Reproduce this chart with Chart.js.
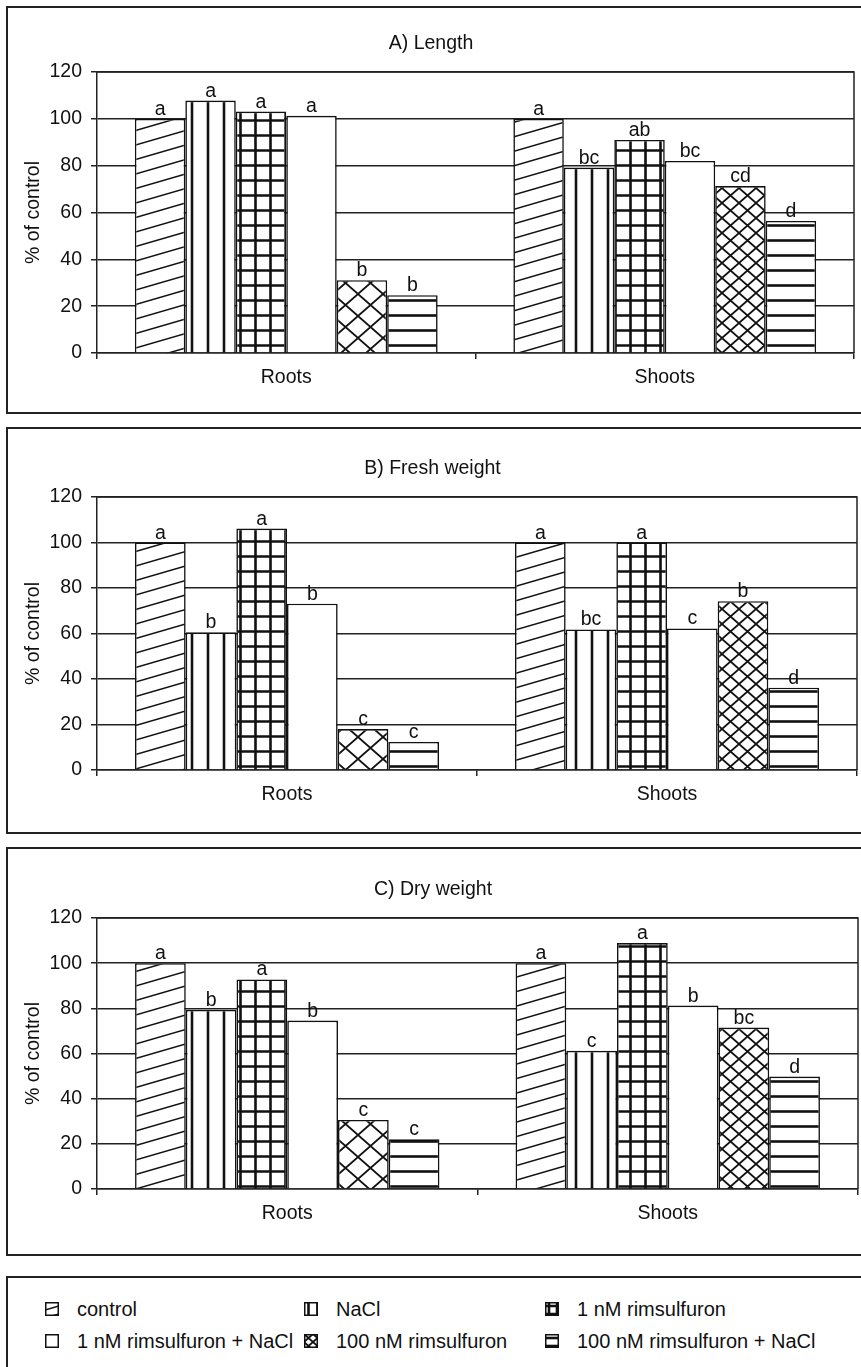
<!DOCTYPE html>
<html lang="en">
<head>
<meta charset="UTF-8">
<title>Rimsulfuron and NaCl: roots and shoots</title>
<script src="https://cdn.jsdelivr.net/npm/chart.js"></script>
<style>
  body { margin: 0; background: #fff; width: 861px; height: 1367px; overflow: hidden; position: relative;
         font-family: "Liberation Sans", Arial, sans-serif; color: #111; }
  .panel { position: absolute; left: 6px; width: 870px; border: 2px solid #222; background: #fff; }
  .panel canvas { display: block; }
  #legend { top: 1276px; height: 100px; }
  .item { position: absolute; font-size: 20px; line-height: 22px; white-space: nowrap; }
  .item canvas { position: absolute; left: 0; top: 4px; }
  .item span { position: absolute; left: 0; top: 0; }
</style>
</head>
<body>
<div class="panel" id="boxA"><canvas id="chartA"></canvas></div>
<div class="panel" id="boxB"><canvas id="chartB"></canvas></div>
<div class="panel" id="boxC"><canvas id="chartC"></canvas></div>
<div class="panel" id="legend"></div>

<script>
    const categories = ['Roots', 'Shoots'];
    const treatments = ['control', 'NaCl', '1 nM rimsulfuron', '1 nM rimsulfuron + NaCl', '100 nM rimsulfuron', '100 nM rimsulfuron + NaCl'];
    const yMin = 0, yMax = 120, yStep = 20;

    // A) Length
    const lengthRoots = [100, 107.8, 103.1, 101.3, 31.1, 24.7];
    const lengthShoots = [100, 79.2, 91.0, 82.0, 71.3, 56.4];
    const lengthRootsLetters = ['a', 'a', 'a', 'a', 'b', 'b'];
    const lengthShootsLetters = ['a', 'bc', 'ab', 'bc', 'cd', 'd'];

    // B) Fresh weight
    const freshRoots = [100, 60.5, 106.1, 73.1, 18.0, 12.3];
    const freshShoots = [100, 61.8, 100, 62.2, 74.2, 36.2];
    const freshRootsLetters = ['a', 'b', 'a', 'b', 'c', 'c'];
    const freshShootsLetters = ['a', 'bc', 'a', 'c', 'b', 'd'];

    // C) Dry weight
    const dryRoots = [100, 79.3, 92.8, 74.6, 30.6, 22.0];
    const dryShoots = [100, 61.2, 108.9, 81.2, 71.5, 49.8];
    const dryRootsLetters = ['a', 'b', 'a', 'b', 'c', 'c'];
    const dryShootsLetters = ['a', 'c', 'a', 'b', 'bc', 'd'];

    const FONT = '"Liberation Sans", Arial, sans-serif';
    const FONT_PX = 19.5;
    const INK = '#111';
    const LINE = '#222';

    function tilePattern(w, h, lw, paint) {
        const c = document.createElement('canvas');
        c.width = w;
        c.height = h;
        const g = c.getContext('2d');
        g.fillStyle = '#fff';
        g.fillRect(0, 0, w, h);
        g.strokeStyle = INK;
        g.lineWidth = lw;
        g.beginPath();
        paint(g, w, h);
        g.stroke();
        return g.createPattern(c, 'repeat');
    }

    function makeFills(k) {
        const r = v => Math.max(2, Math.round(v * k));
        return {
            diagonal: tilePattern(r(100), r(29), 1.5, (g, w, h) => {
                for (let i = 0; i <= 4; i++) { g.moveTo(0, i * h / 2); g.lineTo(w, i * h / 2 - h); }
            }),
            vertical: tilePattern(r(16), 4, 2.6, (g, w, h) => { g.moveTo(w / 2, 0); g.lineTo(w / 2, h); }),
            grid: tilePattern(r(15), r(15), 2.6, (g, w, h) => {
                g.moveTo(w / 2, 0); g.lineTo(w / 2, h);
                g.moveTo(0, h / 2); g.lineTo(w, h / 2);
            }),
            white: '#fff',
            crossBig: tilePattern(r(25), r(22), 1.8, (g, w, h) => {
                g.moveTo(0, 0); g.lineTo(w, h); g.moveTo(0, h); g.lineTo(w, 0);
            }),
            crossSmall: tilePattern(r(17), r(15), 1.8, (g, w, h) => {
                g.moveTo(0, 0); g.lineTo(w, h); g.moveTo(0, h); g.lineTo(w, 0);
            }),
            horizontal: tilePattern(4, r(15), 2.6, (g, w, h) => { g.moveTo(0, h / 2); g.lineTo(w, h / 2); })
        };
    }

    const fills = makeFills(1);
    // roots and shoots bars of "100 nM" use a different crosshatch size in the original
    const barFills = [fills.diagonal, fills.vertical, fills.grid, fills.white, [fills.crossBig, fills.crossSmall], fills.horizontal];

    const letterPlugin = {
        id: 'letters',
        afterDatasetsDraw(chart) {
            const ctx = chart.ctx;
            ctx.save();
            ctx.font = FONT_PX + 'px ' + FONT;
            ctx.fillStyle = INK;
            ctx.textAlign = 'center';
            ctx.textBaseline = 'alphabetic';
            chart.data.datasets.forEach((ds, i) => {
                chart.getDatasetMeta(i).data.forEach((bar, j) => {
                    ctx.fillText(ds.letters[j], bar.x, bar.y - 4);
                });
            });
            ctx.restore();
        }
    };

    const framePlugin = {
        id: 'frame',
        beforeDatasetsDraw(chart) {
            const { ctx, chartArea: a } = chart;
            ctx.save();
            ctx.strokeStyle = LINE;
            ctx.lineWidth = 1.5;
            ctx.beginPath();
            ctx.moveTo(a.left, a.top);
            ctx.lineTo(a.right, a.top);
            ctx.lineTo(a.right, a.bottom);
            ctx.stroke();
            ctx.restore();
        }
    };

    const panels = [
        { canvas: 'chartA', box: 'boxA', title: 'A) Length', roots: lengthRoots, shoots: lengthShoots, rl: lengthRootsLetters, sl: lengthShootsLetters },
        { canvas: 'chartB', box: 'boxB', title: 'B) Fresh weight', roots: freshRoots, shoots: freshShoots, rl: freshRootsLetters, sl: freshShootsLetters },
        { canvas: 'chartC', box: 'boxC', title: 'C) Dry weight', roots: dryRoots, shoots: dryShoots, rl: dryRootsLetters, sl: dryShootsLetters }
    ];

    // box top, canvas height, plot top / bottom / right inside the canvas
    const frames = [
        { top: 6, height: 404, plotTop: 64, plotBottom: 345, plotRight: 846 },
        { top: 427, height: 403, plotTop: 68, plotBottom: 341, plotRight: 849 },
        { top: 847, height: 405, plotTop: 69, plotBottom: 340, plotRight: 850 }
    ];

    const font = { family: FONT, size: FONT_PX, weight: 'normal' };
    const CANVAS_W = 853;

    panels.forEach((p, n) => {
        const f = frames[n];
        const box = document.getElementById(p.box);
        box.style.top = f.top + 'px';
        box.style.height = f.height + 'px';
        const cv = document.getElementById(p.canvas);
        cv.width = CANVAS_W;
        cv.height = f.height;

        const datasets = treatments.map((t, i) => ({
            label: t,
            data: [p.roots[i], p.shoots[i]],
            letters: [p.rl[i], p.sl[i]],
            backgroundColor: barFills[i],
            borderColor: INK,
            borderWidth: 1.6,
            categoryPercentage: 0.8,
            barPercentage: 1.0
        }));

        const lh = FONT_PX * 1.2;
        new Chart(cv.getContext('2d'), {
            type: 'bar',
            data: { labels: categories, datasets: datasets },
            options: {
                responsive: false,
                animation: false,
                layout: { padding: { left: 0, right: CANVAS_W - f.plotRight, top: 0, bottom: 0 } },
                plugins: {
                    legend: { display: false },
                    tooltip: { enabled: false },
                    title: {
                        display: true,
                        text: p.title,
                        color: INK,
                        font: font,
                        padding: { top: f.plotTop - 28 - lh / 2, bottom: 28 - lh / 2 }
                    }
                },
                scales: {
                    x: {
                        grid: { display: true, drawOnChartArea: false, drawTicks: true, tickLength: 6, color: LINE, lineWidth: 1.5, offset: true },
                        border: { display: true, color: LINE, width: 1.5 },
                        ticks: { color: INK, font: font, padding: 7 },
                        afterFit: s => { s.height = f.height - f.plotBottom; }
                    },
                    y: {
                        min: yMin,
                        max: yMax,
                        ticks: { stepSize: yStep, color: INK, font: font, padding: 9 },
                        grid: { color: LINE, lineWidth: 1.5, tickLength: 6 },
                        border: { display: true, color: LINE, width: 1.5 },
                        title: { display: true, text: '% of control', color: INK, font: font, padding: { top: 14, bottom: 0 } },
                        afterFit: s => { s.width = 89; }
                    }
                }
            },
            plugins: [framePlugin, letterPlugin]
        });
    });

    // legend box below the three charts
    const legendFills = makeFills(0.55);
    const legendSwatches = [legendFills.diagonal, legendFills.vertical, legendFills.grid, legendFills.white, legendFills.crossSmall, legendFills.horizontal];
    const legendCols = [37, 296, 537];
    const legendRows = [31, 63];
    const legend = document.getElementById('legend');
    treatments.forEach((t, i) => {
        const item = document.createElement('div');
        item.className = 'item';
        item.style.left = legendCols[i % 3] + 'px';
        item.style.top = (legendRows[Math.floor(i / 3)] - 11) + 'px';
        const sw = document.createElement('canvas');
        sw.width = 14;
        sw.height = 14;
        const g = sw.getContext('2d');
        g.fillStyle = legendSwatches[i];
        g.fillRect(0, 0, 14, 14);
        g.strokeStyle = INK;
        g.lineWidth = 1.5;
        g.strokeRect(0.75, 0.75, 12.5, 12.5);
        const label = document.createElement('span');
        label.style.left = '32px';
        label.textContent = t;
        item.appendChild(sw);
        item.appendChild(label);
        legend.appendChild(item);
    });
</script>
</body>
</html>
